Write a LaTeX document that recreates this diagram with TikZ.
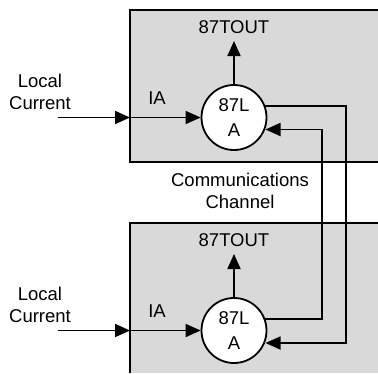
\documentclass[tikz,border=0pt]{standalone}
\usepackage{fontspec}
\setmainfont{Liberation Sans}
\usetikzlibrary{arrows.meta,calc}
\definecolor{panel}{HTML}{D9D9D9}
\tikzset{
  wire/.style={line width=1.8pt,-{Triangle[length=15pt,width=13pt]}},
  frame/.style={line width=1.8pt,line join=miter},
  relay/.style={circle,draw,line width=1.8pt,fill=white,minimum size=65pt,inner sep=0pt,align=center,font=\fontsize{18.5pt}{25pt}\selectfont},
  lab/.style={inner sep=0pt,align=center,font=\fontsize{18.5pt}{22pt}\selectfont},
}
\begin{document}
\begin{tikzpicture}[x=1pt,y=-1pt]
\useasboundingbox (0,0) rectangle (378,373);
\fill[panel] (130,10) rectangle (378,162);
\draw[frame] (378,10) -- (130,10) -- (130,162) -- (378,162);
\fill[panel] (130,223) rectangle (378,373);
\draw[frame] (378,223) -- (130,223) -- (130,373);

\node[relay] (ra) at (234,117.5) {87L\\A};
\node[relay] (rb) at (234,330.5) {87L\\A};

\node[lab] (outa) at (234,27) {87TOUT};
\node[lab] (outb) at (234,240) {87TOUT};
\node[lab] (loca) at (40,92) {Local\\Current};
\node[lab] (locb) at (40,305) {Local\\Current};
\node[lab] (iaa) at (157,98) {IA};
\node[lab] (iab) at (157,311) {IA};
\node[lab] (chan) at (240,191) {Communications\\Channel};

\coordinate (ina) at (58,117.5);
\coordinate (inb) at (58,330.5);
\coordinate (ea) at (130,117.5);
\coordinate (eb) at (130,330.5);
\coordinate (tipa) at (234,41);
\coordinate (tipb) at (234,254);

\draw[wire] (ina) -- (ea);
\draw[wire] (ea) -- (ra);
\draw[wire] (inb) -- (eb);
\draw[wire] (eb) -- (rb);
\draw[wire] (ra) -- (tipa);
\draw[wire] (rb) -- (tipb);

\coordinate (aout) at (265,106);
\coordinate (ain) at (265.5,129.5);
\coordinate (bout) at (265,319);
\coordinate (bin) at (265.5,343);
\draw[wire] (aout) -- (346,106) -- (346,343) -- (bin);
\draw[wire] (bout) -- (322,319) -- (322,129.5) -- (ain);
\end{tikzpicture}
\end{document}
